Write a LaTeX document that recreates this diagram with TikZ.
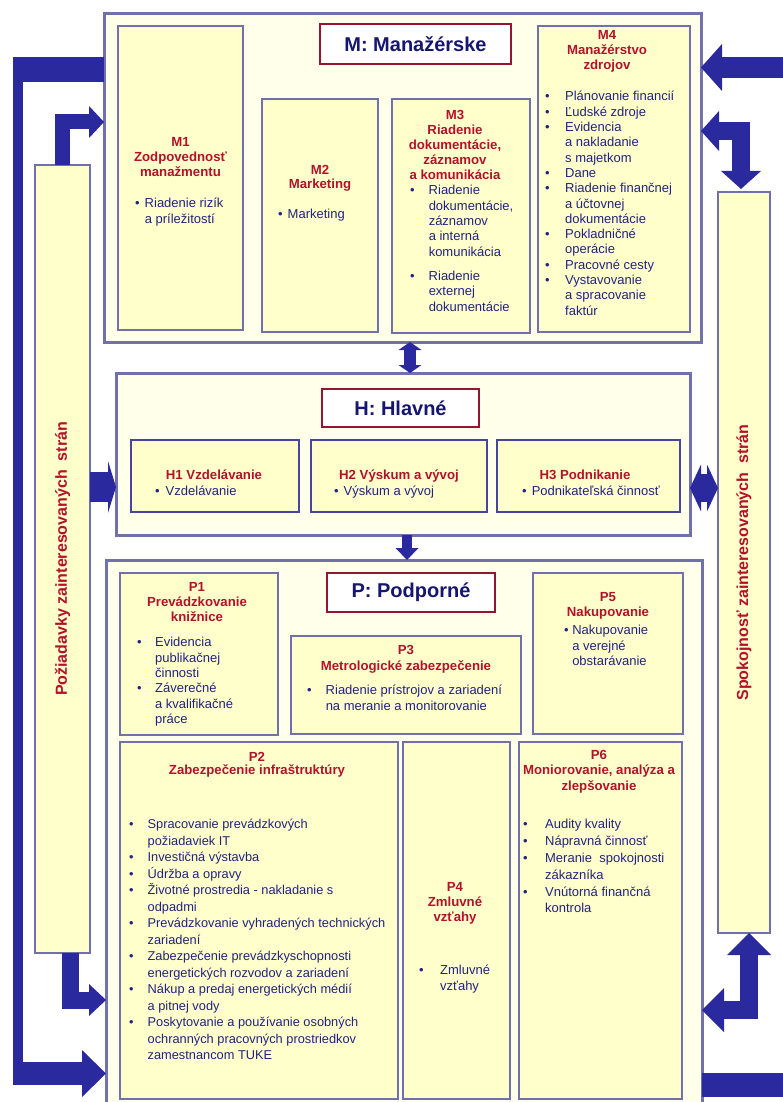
\documentclass[tikz,border=0pt]{standalone}
\usepackage{fontspec}
\setmainfont{Liberation Sans}
\usetikzlibrary{arrows.meta}
\definecolor{arrowblue}{RGB}{42,42,158}
\definecolor{framegrey}{RGB}{112,112,170}
\definecolor{hboxblue}{RGB}{70,70,160}
\definecolor{boxfill}{RGB}{255,255,204}
\definecolor{framefill}{RGB}{255,255,234}
\definecolor{titlered}{RGB}{178,18,42}
\definecolor{itemblue}{RGB}{34,34,128}
\definecolor{headred}{RGB}{150,20,50}
\definecolor{headblue}{RGB}{22,22,110}
\newcommand{\headfont}{\fontsize{20}{24}\selectfont\bfseries}
\newcommand{\ttlfont}{\fontsize{13.2}{15}\selectfont\bfseries}
\newcommand{\itemfont}{\fontsize{13}{15.3}\selectfont}
\newcommand{\boxtitle}[1]{\begin{tabular}{@{}c@{}}#1\end{tabular}}
\newcommand{\boxitems}[2][14pt]{\begin{tabular}{@{}l@{\hspace{#1}}l@{}}#2\end{tabular}}
\tikzset{
	groupframe/.style={draw=framegrey, line width=3pt, fill=framefill, anchor=north west, inner sep=0pt, outer sep=0pt},
	procbox/.style={draw=framegrey, line width=2.5pt, fill=boxfill, anchor=north west, inner sep=0pt, outer sep=0pt},
	hbox/.style={draw=hboxblue, line width=2pt, fill=boxfill, anchor=north west, inner sep=0pt, outer sep=0pt},
	headbox/.style={draw=headred, line width=2.5pt, fill=white, text=headblue, font=\headfont, anchor=north west, inner sep=0pt, outer sep=0pt},
	ttl/.style={text=titlered, font=\ttlfont, inner sep=0pt, anchor=north},
	items/.style={text=itemblue, font=\itemfont, inner sep=0pt, anchor=north west},
	sidetext/.style={rotate=90, text=titlered, font=\fontsize{16}{19}\selectfont\bfseries},
	blockarrow/.style={draw=arrowblue, line join=miter},
	fathead/.style 2 args={>={Triangle[length=#1, width=#2, line width=0pt]}}
}

\begin{document}
\begin{tikzpicture}[x=1pt, y=-1pt]
	\useasboundingbox (0,0) rectangle (783,1102);
	\fill[white] (0,0) rectangle (783,1102);
	% process groups
	\node[groupframe, minimum width=597pt, minimum height=328pt] (Mframe) at (104,14) {};
	\node[groupframe, minimum width=574pt, minimum height=162pt] (Hframe) at (116,373) {};
	\node[groupframe, minimum width=596pt, minimum height=546pt] (Pframe) at (106,560) {};
	% interested parties
	\node[procbox, minimum width=55pt, minimum height=788pt] (req) at (35,165) {};
	\node[procbox, minimum width=52pt, minimum height=741pt] (sat) at (718,192) {};
	\node[sidetext] (reqtext) at (req.center) {Požiadavky zainteresovaných\ \ strán};
	\node[sidetext] (sattext) at (sat.center) {Spokojnosť zainteresovaných\ \ strán};

	% M: manazerske
	\node[headbox, minimum width=191pt, minimum height=40pt] (Mhead) at (320,24) {M: Manažérske};
	\node[procbox, minimum width=125pt, minimum height=304pt] (M1) at (118,26) {};
	\node[procbox, minimum width=116pt, minimum height=233pt] (M2) at (262,99) {};
	\node[procbox, minimum width=138pt, minimum height=234pt] (M3) at (392,99) {};
	\node[procbox, minimum width=152pt, minimum height=306pt] (M4) at (538,26) {};
	\node[ttl] (M1t) at (180.5,136) {\boxtitle{M1\\Zodpovednosť\\manažmentu}};
	\node[items] (M1i) at (135,197) {\boxitems[5pt]{\textbullet & Riadenie rizík\\ & a príležitostí}};
	\node[ttl] (M2t) at (320,164) {\boxtitle{M2\\[-1pt]Marketing}};
	\node[items] (M2i) at (278,208) {\boxitems[5pt]{\textbullet & Marketing}};
	\node[ttl] (M3t) at (455,109) {\boxtitle{M3\\Riadenie\\dokumentácie,\\záznamov\\a komunikácia}};
	\node[items] (M3i) at (410,184) {\boxitems{\textbullet & Riadenie\\ & dokumentácie,\\ & záznamov\\ & a interná\\ & komunikácia\\[9pt]
		\textbullet & Riadenie\\ & externej\\ & dokumentácie}};
	\node[ttl] (M4t) at (607,29) {\boxtitle{M4\\Manažérstvo\\zdrojov}};
	\node[items] (M4i) at (545,90) {\boxitems[15.4pt]{\textbullet & Plánovanie financií\\
		\textbullet & Ľudské zdroje\\
		\textbullet & Evidencia\\ & a nakladanie\\ & s majetkom\\
		\textbullet & Dane\\
		\textbullet & Riadenie finančnej\\ & a účtovnej\\ & dokumentácie\\
		\textbullet & Pokladničné\\ & operácie\\
		\textbullet & Pracovné cesty\\
		\textbullet & Vystavovanie\\ & a spracovanie\\ & faktúr}};

	% H: hlavne
	\node[headbox, minimum width=157pt, minimum height=38pt] (Hhead) at (322,389) {H: Hlavné};
	\node[hbox, minimum width=168pt, minimum height=72pt] (H1) at (131,440) {};
	\node[hbox, minimum width=176pt, minimum height=72pt] (H2) at (311,440) {};
	\node[hbox, minimum width=183pt, minimum height=72pt] (H3) at (497,440) {};
	\node[ttl] (H1t) at (214,469) {\boxtitle{H1 Vzdelávanie}};
	\node[items] (H1i) at (155,485) {\boxitems[6pt]{\textbullet & Vzdelávanie}};
	\node[ttl] (H2t) at (399,469) {\boxtitle{H2 Výskum a vývoj}};
	\node[items] (H2i) at (334,485) {\boxitems[5pt]{\textbullet & Výskum a vývoj}};
	\node[ttl] (H3t) at (585,469) {\boxtitle{H3 Podnikanie}};
	\node[items] (H3i) at (522,485) {\boxitems[5pt]{\textbullet & Podnikateľská činnosť}};

	% P: podporne
	\node[headbox, minimum width=168pt, minimum height=39pt] (Phead) at (327,573) {P: Podporné};
	\node[procbox, minimum width=158pt, minimum height=162pt] (P1) at (120,573) {};
	\node[procbox, minimum width=230pt, minimum height=98pt] (P3) at (291,636) {};
	\node[procbox, minimum width=150pt, minimum height=161pt] (P5) at (533,573) {};
	\node[procbox, minimum width=278pt, minimum height=357pt] (P2) at (120,742) {};
	\node[procbox, minimum width=107pt, minimum height=357pt] (P4) at (403,742) {};
	\node[procbox, minimum width=163pt, minimum height=357pt] (P6) at (519,742) {};
	\node[ttl] (P1t) at (197,581) {\boxtitle{P1\\Prevádzkovanie\\knižnice}};
	\node[items] (P1i) at (137,636) {\boxitems[13.4pt]{\textbullet & Evidencia\\ & publikačnej\\ & činnosti\\
		\textbullet & Záverečné\\ & a kvalifikačné\\ & práce}};
	\node[ttl] (P3t) at (406,644) {\boxtitle{P3\\[1pt]Metrologické zabezpečenie}};
	\node[items] (P3i) at (307,684) {\boxitems{\textbullet & Riadenie prístrojov a zariadení\\ & na meranie a monitorovanie}};
	\node[ttl] (P5t) at (608,591) {\boxtitle{P5\\Nakupovanie}};
	\node[items] (P5i) at (564,624) {\boxitems[3.5pt]{\textbullet & Nakupovanie\\ & a verejné\\ & obstarávanie}};
	\node[ttl] (P2t) at (257,751) {\boxtitle{P2\\[-2pt]Zabezpečenie infraštruktúry}};
	\node[items, font=\fontsize{12.8}{16.5}\selectfont] (P2i) at (129,817) {\boxitems{\textbullet & Spracovanie prevádzkových\\ & požiadaviek IT\\
		\textbullet & Investičná výstavba\\
		\textbullet & Údržba a opravy\\
		\textbullet & Životné prostredia - nakladanie s\\ & odpadmi\\
		\textbullet & Prevádzkovanie vyhradených technických\\ & zariadení\\
		\textbullet & Zabezpečenie prevádzkyschopnosti\\ & energetických rozvodov a zariadení\\
		\textbullet & Nákup a predaj energetických médií\\ & a pitnej vody\\
		\textbullet & Poskytovanie a používanie osobných\\ & ochranných pracovných prostriedkov\\ & zamestnancom TUKE}};
	\node[ttl] (P4t) at (455,881) {\boxtitle{P4\\Zmluvné\\vzťahy}};
	\node[items] (P4i) at (419,964) {\boxitems[16.4pt]{\textbullet & Zmluvné\\ & vzťahy}};
	\node[ttl] (P6t) at (599,749) {\boxtitle{P6\\Moniorovanie, analýza a\\[1pt]zlepšovanie}};
	\node[items, font=\fontsize{13}{16.8}\selectfont] (P6i) at (523,817) {\boxitems[17.4pt]{\textbullet & Audity kvality\\
		\textbullet & Nápravná činnosť\\
		\textbullet & Meranie\ \ spokojnosti\\ & zákazníka\\
		\textbullet & Vnútorná finančná\\ & kontrola}};

	% arrows
	\coordinate (ltop) at (18,57);
	\coordinate (lbot) at (18,1085);
	\coordinate (topbar) at (13,69.5);
	\coordinate (botbar) at (13,1073.5);
	\coordinate (rtop) at (790,67.5);
	\coordinate (rbot) at (790,1085);
	\coordinate (reqm) at (0,122);
	\coordinate (reqh) at (0,487);
	\coordinate (reqp) at (0,1000);
	\coordinate (satm) at (0,131);
	\coordinate (sath) at (0,488);
	\coordinate (satp) at (0,1010);
	\coordinate (mh) at (410,0);
	\coordinate (hp) at (407,0);
	\draw[blockarrow, line width=10pt] (ltop) -- (lbot);
	\draw[blockarrow, line width=25pt] (topbar) -- (topbar -| Mframe.west);
	\draw[blockarrow, line width=23pt, fathead={24pt}{47pt}, ->] (botbar) -- (botbar -| Pframe.west);
	\draw[blockarrow, line width=15pt, fathead={15pt}{32pt}, ->] (req.north) |- (Mframe.west |- reqm);
	\draw[blockarrow, line width=30pt, fathead={8pt}{52pt}, ->] (req.east |- reqh) -- (Hframe.west |- reqh);
	\draw[blockarrow, line width=17pt, fathead={17pt}{32pt}, ->] ([xshift=7.5pt]req.south) |- (Pframe.west |- reqp);
	\draw[blockarrow, line width=21pt, fathead={21pt}{47pt}, ->] (rtop) -- (rtop -| Mframe.east);
	\draw[blockarrow, line width=18pt, fathead={18pt}{40pt}, <->] (Mframe.east |- satm) -| ([xshift=-3pt,yshift=3pt]sat.north);
	\draw[blockarrow, line width=28pt, fathead={11pt}{47pt}, <->] (Hframe.east |- sath) -- (sat.west |- sath);
	\draw[blockarrow, line width=18pt, fathead={22pt}{44pt}, <->] (Pframe.east |- satp) -| ([xshift=5pt]sat.south);
	\draw[blockarrow, line width=12pt, fathead={8pt}{23pt}, <->] (mh |- Mframe.south) -- (mh |- Hframe.north);
	\draw[blockarrow, line width=10pt, fathead={12pt}{23pt}, ->] (hp |- Hframe.south) -- (hp |- Pframe.north);
	\draw[blockarrow, line width=24pt] (rbot -| Pframe.east) -- (rbot);
\end{tikzpicture}
\end{document}
